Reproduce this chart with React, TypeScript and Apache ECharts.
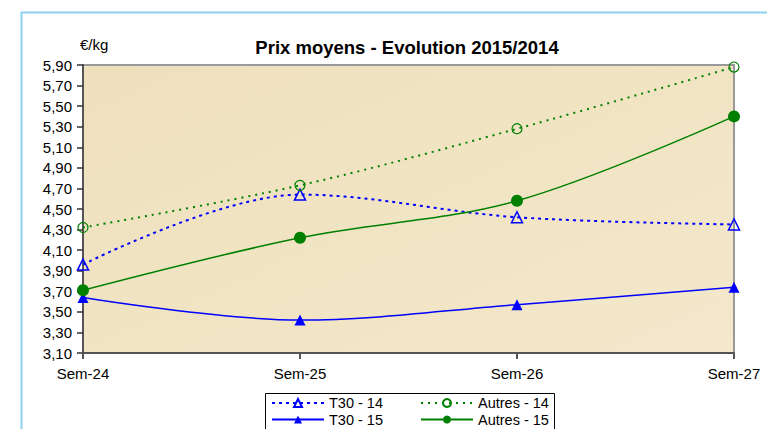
import React, { useEffect, useRef } from "react";
import * as echarts from "echarts";

const categories = ["Sem-24", "Sem-25", "Sem-26", "Sem-27"];
const t30_14 = [3.96, 4.64, 4.42, 4.35];
const autres_14 = [4.32, 4.73, 5.28, 5.88];
const t30_15 = [3.64, 3.42, 3.57, 3.74];
const autres_15 = [3.71, 4.22, 4.58, 5.4];
const yMin = 3.1;
const yMax = 5.9;
const yStep = 0.2;

const FONT = "Liberation Sans, Arial, sans-serif";

export default function App() {
  const ref = useRef<HTMLDivElement>(null);
  useEffect(() => {
    document.body.style.margin = "0";
    const chart = echarts.init(ref.current!, null, { renderer: "svg" });
    const blue = "#0000ff";
    const green = "#008000";
    const legendText = { fontFamily: FONT, fontSize: 14.5, color: "#000" };
    chart.setOption({
      animation: false,
      backgroundColor: "#ffffff",
      textStyle: { fontFamily: FONT },
      title: {
        text: "Prix moyens - Evolution 2015/2014",
        left: 402,
        textAlign: "center",
        top: 33,
        textStyle: { fontFamily: FONT, fontSize: 18.5, fontWeight: "bold", color: "#000" },
      },
      graphic: [
        {
          type: "rect",
          shape: { x: 21.5, y: 12.5, width: 800, height: 500 },
          style: { fill: "none", stroke: "#8ccfef", lineWidth: 2 },
          silent: true,
          z: 0,
        },
        {
          type: "text",
          x: 80,
          y: 37,
          style: { text: "€/kg", font: `15px ${FONT}`, fill: "#000" },
        },
        {
          type: "rect",
          shape: { x: 265.5, y: 393.5, width: 289, height: 44 },
          style: { fill: "#fff", stroke: "#000", lineWidth: 1 },
          z: 1,
        },
      ],
      legend: [
        {
          data: ["T30 - 14", "Autres - 14"],
          left: 271,
          top: 395.5,
          itemWidth: 52,
          itemHeight: 10,
          itemGap: 37,
          padding: 0,
          z: 5,
          textStyle: legendText,
        },
        {
          data: ["T30 - 15", "Autres - 15"],
          left: 271,
          top: 412,
          itemWidth: 52,
          itemHeight: 10,
          itemGap: 37,
          padding: 0,
          z: 5,
          textStyle: legendText,
        },
      ],
      grid: {
        left: 83,
        top: 65,
        right: 33,
        bottom: 76,
        show: true,
        backgroundColor: new echarts.graphic.LinearGradient(0, 0, 1, 1, [
          { offset: 0, color: "#eee0bd" },
          { offset: 0.5, color: "#f1e4c3" },
          { offset: 1, color: "#f3e8cc" },
        ]),
        borderColor: "#999",
        borderWidth: 2,
      },
      xAxis: {
        type: "category",
        data: categories,
        boundaryGap: false,
        axisLine: { lineStyle: { color: "#555", width: 2 } },
        axisTick: { show: true, length: 6, lineStyle: { color: "#555", width: 2 } },
        axisLabel: { color: "#000", fontSize: 15, fontFamily: FONT, margin: 13 },
        splitLine: { show: false },
      },
      yAxis: {
        type: "value",
        min: yMin,
        max: yMax,
        interval: yStep,
        axisLine: { show: true, lineStyle: { color: "#555", width: 2 } },
        axisTick: { show: true, length: 6, lineStyle: { color: "#333", width: 1.5 } },
        axisLabel: {
          color: "#000",
          fontSize: 15,
          fontFamily: FONT,
          margin: 11,
          formatter: (v: number) => v.toFixed(2).replace(".", ","),
        },
        splitLine: { show: false },
      },
      series: [
        {
          name: "T30 - 14",
          type: "line",
          data: t30_14,
          smooth: 0.35,
          symbol: "triangle",
          symbolSize: 11,
          lineStyle: { color: blue, width: 2, type: [3, 4] },
          itemStyle: { color: "rgba(0,0,0,0)", borderColor: blue, borderWidth: 1.5 },
          z: 3,
        },
        {
          name: "Autres - 14",
          type: "line",
          data: autres_14,
          smooth: 0.35,
          symbol: "circle",
          symbolSize: 10,
          lineStyle: { color: green, width: 2, type: [2, 5] },
          itemStyle: { color: "rgba(0,0,0,0)", borderColor: green, borderWidth: 1.2 },
          z: 3,
        },
        {
          name: "T30 - 15",
          type: "line",
          data: t30_15,
          smooth: 0.35,
          symbol: "triangle",
          symbolSize: 11,
          lineStyle: { color: blue, width: 1.5 },
          itemStyle: { color: blue },
          z: 3,
        },
        {
          name: "Autres - 15",
          type: "line",
          data: autres_15,
          smooth: 0.35,
          symbol: "circle",
          symbolSize: 12,
          lineStyle: { color: green, width: 1.5 },
          itemStyle: { color: green },
          z: 3,
        },
      ],
    });
    return () => chart.dispose();
  }, []);
  return <div ref={ref} style={{ width: 767, height: 429 }} />;
}
